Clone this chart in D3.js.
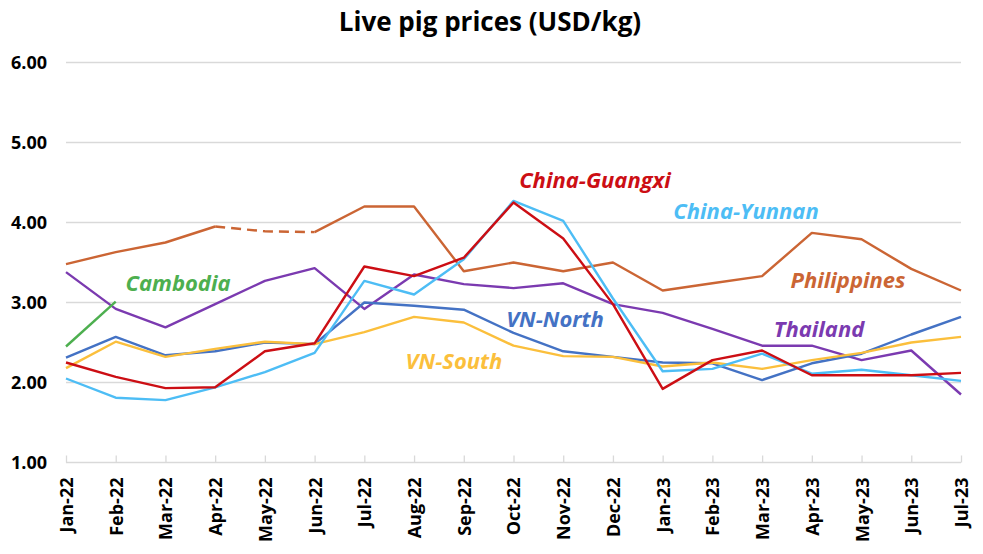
<!DOCTYPE html>
<html>
<head>
<meta charset="utf-8">
<script src="https://cdn.jsdelivr.net/npm/d3@7"></script>
<style>
  html, body { margin: 0; padding: 0; background: #fff; }
  svg { display: block; }
</style>
</head>
<body>
<svg id="chart" width="983" height="554"></svg>
<script>
// ---------- DATA ----------
const months = ["Jan-22","Feb-22","Mar-22","Apr-22","May-22","Jun-22","Jul-22","Aug-22","Sep-22","Oct-22","Nov-22","Dec-22","Jan-23","Feb-23","Mar-23","Apr-23","May-23","Jun-23","Jul-23"];
const yTicks = [1, 2, 3, 4, 5, 6];

const philippines = [3.48, 3.63, 3.75, 3.95, 3.89, 3.88, 4.20, 4.20, 3.39, 3.50, 3.39, 3.50, 3.15, 3.24, 3.33, 3.87, 3.79, 3.42, 3.15];
const philippinesDashedFrom = "Apr-22";
const philippinesDashedTo = "Jun-22";
const thailand = [3.38, 2.92, 2.69, 2.98, 3.27, 3.43, 2.92, 3.35, 3.23, 3.18, 3.24, 2.98, 2.87, 2.67, 2.46, 2.46, 2.28, 2.40, 1.85];
const cambodia = [2.45, 3.01, null, null, null, null, null, null, null, null, null, null, null, null, null, null, null, null, null];
const vnNorth = [2.31, 2.57, 2.34, 2.39, 2.50, 2.48, 3.00, 2.96, 2.91, 2.62, 2.39, 2.32, 2.25, 2.24, 2.03, 2.24, 2.36, 2.60, 2.82];
const vnSouth = [2.18, 2.51, 2.32, 2.42, 2.51, 2.48, 2.63, 2.82, 2.75, 2.46, 2.33, 2.32, 2.20, 2.25, 2.17, 2.28, 2.37, 2.50, 2.57];
const chinaGuangxi = [2.25, 2.07, 1.93, 1.94, 2.39, 2.49, 3.45, 3.33, 3.56, 4.25, 3.80, 2.98, 1.92, 2.28, 2.40, 2.09, 2.09, 2.09, 2.12];
const chinaYunnan = [2.05, 1.81, 1.78, 1.94, 2.13, 2.37, 3.27, 3.10, 3.54, 4.27, 4.02, 3.05, 2.14, 2.17, 2.36, 2.11, 2.16, 2.09, 2.02];

const seriesNames = ["Philippines","Thailand","Cambodia","VN-North","VN-South","China-Guangxi","China-Yunnan"];
const seriesValues = [philippines, thailand, cambodia, vnNorth, vnSouth, chinaGuangxi, chinaYunnan];

// ---------- STYLE / LAYOUT ----------
const colors = {
  "Philippines": "#CB6534",
  "Thailand": "#7B3AB0",
  "Cambodia": "#4DAF4F",
  "VN-North": "#4472C4",
  "VN-South": "#FBBF3C",
  "China-Guangxi": "#CC0E14",
  "China-Yunnan": "#4DBDF5"
};
const labelPos = {
  "China-Guangxi": [595, 188],
  "China-Yunnan": [746, 219],
  "Cambodia": [178, 291],
  "Philippines": [848, 288],
  "Thailand": [819, 337],
  "VN-North": [555, 327],
  "VN-South": [454, 369]
};
const drawOrder = ["Philippines","Thailand","Cambodia","VN-North","VN-South","China-Yunnan","China-Guangxi"];

const svg = d3.select("#chart");
const x = d3.scalePoint().domain(months).range([66, 961]);
const y = d3.scaleLinear().domain([1, 6]).range([462.5, 62.5]);
const font = "'Open Sans', sans-serif";

// title
svg.append("text")
  .attr("x", 490).attr("y", 31)
  .attr("text-anchor", "middle")
  .style("font-family", font).style("font-weight", 700).style("font-size", "26px")
  .attr("fill", "#000")
  .text("Live pig prices (USD/kg)");

// gridlines
svg.append("g").selectAll("line").data(yTicks.filter(t => t > 1)).join("line")
  .attr("x1", 66).attr("x2", 961)
  .attr("y1", d => y(d)).attr("y2", d => y(d))
  .attr("stroke", "#D9D9D9").attr("stroke-width", 1.3);

// y axis labels
const yAxis = d3.axisLeft(y).tickValues(yTicks).tickFormat(d3.format(".2f")).tickSize(0).tickPadding(0);
const gy = svg.append("g").attr("transform", "translate(47,0)").call(yAxis);
gy.select(".domain").remove();
gy.selectAll("text")
  .style("font-family", font).style("font-weight", 700).style("font-size", "18px")
  .attr("fill", "#000").attr("dy", "0.34em");

// x axis
const xAxis = d3.axisBottom(x).tickSize(0).tickPadding(0);
const gx = svg.append("g").attr("transform", `translate(0,${y(1)})`).call(xAxis);
gx.select(".domain").attr("stroke", "#D9D9D9").attr("stroke-width", 1.3).attr("d", `M${x(months[0])},0H${x(months[months.length-1])}`);
gx.selectAll(".tick").append("line")
  .attr("y1", 0).attr("y2", -7).attr("stroke", "#D9D9D9").attr("stroke-width", 1.3);
gx.selectAll("text")
  .attr("transform", "rotate(-90)")
  .attr("x", -15).attr("y", 0).attr("dy", "0.36em")
  .attr("text-anchor", "end")
  .style("font-family", font).style("font-weight", 700).style("font-size", "18px")
  .attr("fill", "#000");

// lines
const linesG = svg.append("g");
drawOrder.forEach(name => {
  const vals = seriesValues[seriesNames.indexOf(name)];
  const pts = months.map((m, i) => ({ m, i, v: vals[i] }));
  if (name === "Philippines") {
    const a = months.indexOf(philippinesDashedFrom), b = months.indexOf(philippinesDashedTo);
    const solid = d3.line().defined(d => d.v != null && (d.i <= a || d.i >= b)).x(d => x(d.m)).y(d => y(d.v));
    const dashed = d3.line().defined(d => d.v != null && d.i >= a && d.i <= b).x(d => x(d.m)).y(d => y(d.v));
    linesG.append("path").attr("d", solid(pts)).attr("fill", "none")
      .attr("stroke", colors[name]).attr("stroke-width", 2.4).attr("stroke-linejoin", "round");
    linesG.append("path").attr("d", dashed(pts)).attr("fill", "none")
      .attr("stroke", colors[name]).attr("stroke-width", 2.4).attr("stroke-dasharray", "10,6");
  } else {
    const line = d3.line().defined(d => d.v != null).x(d => x(d.m)).y(d => y(d.v));
    linesG.append("path").attr("d", line(pts)).attr("fill", "none")
      .attr("stroke", colors[name]).attr("stroke-width", 2.4).attr("stroke-linejoin", "round");
  }
});

// series labels
svg.append("g").selectAll("text").data(seriesNames).join("text")
  .attr("x", d => labelPos[d][0]).attr("y", d => labelPos[d][1])
  .attr("text-anchor", "middle")
  .style("font-family", font).style("font-weight", 700).style("font-style", "italic").style("font-size", "22px")
  .attr("fill", d => colors[d])
  .text(d => d);
</script>
</body>
</html>
